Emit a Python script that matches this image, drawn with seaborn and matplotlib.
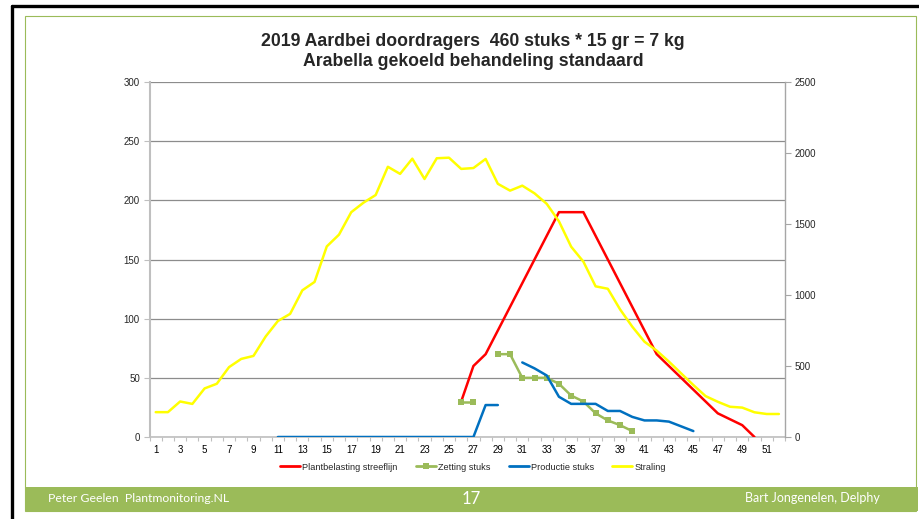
import numpy as np
import pandas as pd
import matplotlib
matplotlib.use("Agg")
import matplotlib.pyplot as plt
from matplotlib.lines import Line2D
from matplotlib.patches import Rectangle
import seaborn as sns

nan = np.nan
weeks = list(range(1, 53))
xtick_labels = [str(w) for w in range(1, 53, 2)]

title_line1 = "2019 Aardbei doordragers  460 stuks * 15 gr = 7 kg"
title_line2 = "Arabella gekoeld behandeling standaard"

plantbelasting = [nan] * 25 + [30, 60, 70, 90, 110, 130, 150, 170, 190, 190, 190,
                               170, 150, 130, 110, 90, 70, 60, 50, 40, 30, 20, 15, 10, 0,
                               nan, nan]
zetting = [nan] * 25 + [30, 30, nan, 70, 70, 50, 50, 50, 45, 35, 30, 20, 14, 10, 5] + [nan] * 12
productie = [nan] * 10 + [0] * 17 + [27, 27, nan, 63, 58, 52, 34, 28, 28, 28, 22, 22, 17,
                                     14, 14, 13, 9, 5] + [nan] * 7
straling = [175, 175, 250, 233, 342, 375, 492, 550, 571, 708, 817, 867, 1033, 1092,
            1342, 1425, 1583, 1650, 1704, 1903, 1853, 1960, 1817, 1963, 1967, 1888,
            1894, 1958, 1783, 1735, 1770, 1716, 1642, 1519, 1340, 1235, 1061, 1044,
            899, 777, 671, 608, 531, 448, 366, 288, 248, 213, 207, 174, 162, 162]

names = ["Plantbelasting streeflijn", "Zetting stuks", "Productie stuks", "Straling"]
colors = ["#FF0000", "#9BBB59", "#0070C0", "#FFFF00"]


def segments(vals):
    df = pd.DataFrame({"week": weeks, "val": vals})
    df["seg"] = df["val"].isna().cumsum()
    return df.dropna()


sns.set_style("white")
plt.rcParams["font.family"] = ["Liberation Sans", "DejaVu Sans"]

fig = plt.figure(figsize=(9.2, 5.19), dpi=100)

# slide decorations
fig.add_artist(Line2D([11.5 / 920, 11.5 / 920], [0, 1 - 6 / 519], color="black", lw=2.4,
                      transform=fig.transFigure))
fig.add_artist(Line2D([11.5 / 920, 1], [1 - 6 / 519, 1 - 6 / 519], color="black", lw=2.4,
                      transform=fig.transFigure))
fig.add_artist(Rectangle((25 / 920, 1 - 511 / 519), (916 - 25) / 920, (511 - 16) / 519,
                         fill=False, edgecolor="#9BBB59", lw=0.8, transform=fig.transFigure))
fig.add_artist(Rectangle((26 / 920, 1 - 511 / 519), (918 - 26) / 920, 24 / 519,
                         facecolor="#9BBB59", edgecolor="none", transform=fig.transFigure))
fig.text(48 / 920, 1 - 499 / 519, "Peter Geelen  Plantmonitoring.NL", color="white",
         fontsize=8.8, family=["Lato", "DejaVu Sans"], va="center", ha="left")
fig.text(471 / 920, 1 - 499 / 519, "17", color="white", fontsize=12,
         family=["Lato", "DejaVu Sans"], va="center", ha="center")
fig.text(880 / 920, 1 - 498 / 519, "Bart Jongenelen, Delphy", color="white", fontsize=9,
         family=["Lato", "DejaVu Sans"], va="center", ha="right")

fig.text(473 / 920, 1 - 42 / 519, title_line1, fontsize=12.7, fontweight="bold",
         ha="center", va="center")
fig.text(473 / 920, 1 - 61 / 519, title_line2, fontsize=12.7, fontweight="bold",
         ha="center", va="center")

ax = fig.add_axes([149.6 / 920, 1 - 437 / 519, (785 - 149.6) / 920, (437 - 82) / 519])
ax2 = ax.twinx()

lw = 1.8
sns.lineplot(data=segments(plantbelasting), x="week", y="val", units="seg", estimator=None,
             color=colors[0], lw=lw, ax=ax, zorder=3)
sns.lineplot(data=segments(zetting), x="week", y="val", units="seg", estimator=None,
             color=colors[1], lw=lw, marker="s", markersize=4.5, markeredgewidth=0,
             ax=ax, zorder=3)
sns.lineplot(data=segments(productie), x="week", y="val", units="seg", estimator=None,
             color=colors[2], lw=lw, ax=ax, zorder=3)
sns.lineplot(data=segments(straling), x="week", y="val", units="seg", estimator=None,
             color=colors[3], lw=lw, ax=ax2, zorder=2)

ax.set_xlim(0.5, 52.5)
ax.set_ylim(0, 300)
ax2.set_ylim(0, 2500)
ax.set_yticks(range(0, 301, 50))
ax2.set_yticks(range(0, 2501, 500))
ax.set_xticks(range(1, 53, 2))
ax.set_xticklabels(xtick_labels)
ax.set_xticks(np.arange(0.5, 53, 1), minor=True)
ax.set_xlabel("")
ax.set_ylabel("")
ax2.set_ylabel("")

ax.yaxis.grid(True, color="#8C8C8C", lw=0.9)
ax.set_axisbelow(True)
for a in (ax, ax2):
    for s in a.spines.values():
        s.set_visible(False)
ax.spines["left"].set_visible(True)
ax.spines["left"].set_color("#BFBFBF")
ax.spines["left"].set_linewidth(1.5)
ax.spines["bottom"].set_visible(True)
ax.spines["bottom"].set_color("#BFBFBF")
ax.spines["bottom"].set_linewidth(1.2)
ax2.spines["right"].set_visible(True)
ax2.spines["right"].set_color("#A6A6A6")
ax2.spines["right"].set_linewidth(1.0)

ax.tick_params(axis="x", which="major", length=0, labelsize=7, pad=6, colors="black")
ax.tick_params(axis="x", which="minor", length=3, color="#BFBFBF", width=0.8, bottom=True)
ax.tick_params(axis="y", length=4, color="#BFBFBF", labelsize=7, pad=3, left=True)
ax2.tick_params(axis="y", length=4, color="#A6A6A6", labelsize=7, pad=3, right=True)

handles = [
    Line2D([], [], color=colors[0], lw=2),
    Line2D([], [], color=colors[1], lw=2, marker="s", markersize=4, markeredgewidth=0),
    Line2D([], [], color=colors[2], lw=2),
    Line2D([], [], color=colors[3], lw=2),
]
fig.legend(handles, names, loc="center", bbox_to_anchor=(473 / 920, 1 - 467 / 519),
           ncol=4, frameon=False, fontsize=6.6, handlelength=2.2, handletextpad=0.2,
           columnspacing=2.0)

fig.savefig("out.png", dpi=100)
